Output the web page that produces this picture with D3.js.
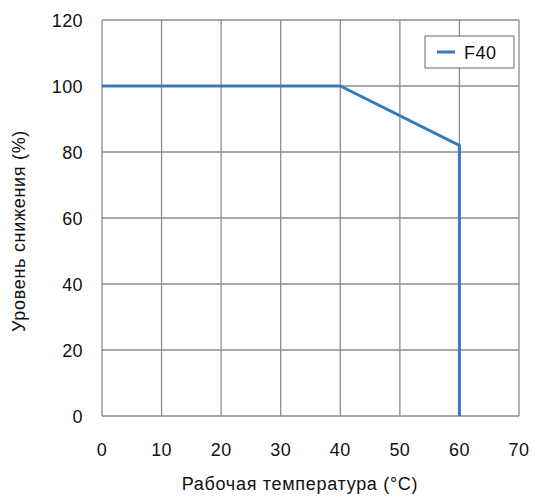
<!DOCTYPE html>
<html>
<head>
<meta charset="utf-8">
<script src="https://cdn.jsdelivr.net/npm/d3@7"></script>
<style>
  body { margin: 0; background: #fff; }
  text { font-family: 'Liberation Sans', Arial, sans-serif; }
</style>
</head>
<body>
<div id="chart"></div>
<script>
const WIDTH  = 535;
const HEIGHT = 497;
const MARGIN = { top: 20, right: 16, bottom: 81, left: 102 };
const FONT   = '18px';

const COLORS = {
  grid: '#8c8c8c',
  line: '#3b78c3',
  text: '#111'
};

// data
const temps   = [0, 40, 60, 60];
const levels  = [100, 100, 82, 0];
const xTicks  = [0, 10, 20, 30, 40, 50, 60, 70];
const yTicks  = [0, 20, 40, 60, 80, 100, 120];
const seriesName = 'F40';
const xTitle = 'Рабочая температура (°C)';
const yTitle = 'Уровень снижения (%)';

const w = WIDTH - MARGIN.left - MARGIN.right;
const h = HEIGHT - MARGIN.top - MARGIN.bottom;

var x = d3.scaleLinear().domain([0, 70]).range([0, w]);
var y = d3.scaleLinear().domain([0, 120]).range([h, 0]);

var svg = d3.select('#chart').append('svg')
  .attr('width', WIDTH)
  .attr('height', HEIGHT);

var g = svg.append('g')
  .attr('transform', `translate(${MARGIN.left},${MARGIN.top})`);

// Grid
g.selectAll('.vgrid')
    .data(xTicks)
  .enter().append('line')
    .attr('class', 'vgrid')
    .attr('x1', d => x(d)).attr('x2', d => x(d))
    .attr('y1', 0).attr('y2', h)
    .style('stroke', COLORS.grid)
    .style('stroke-width', 1.3);

g.selectAll('.hgrid')
    .data(yTicks)
  .enter().append('line')
    .attr('class', 'hgrid')
    .attr('x1', 0).attr('x2', w)
    .attr('y1', d => y(d)).attr('y2', d => y(d))
    .style('stroke', COLORS.grid)
    .style('stroke-width', 1.3);

// Tick labels
g.selectAll('.xlabel')
    .data(xTicks)
  .enter().append('text')
    .attr('x', d => x(d))
    .attr('y', h + 40)
    .attr('text-anchor', 'middle')
    .style('font-size', FONT)
    .style('letter-spacing', '0.4px')
    .style('fill', COLORS.text)
    .text(d => d);

g.selectAll('.ylabel')
    .data(yTicks)
  .enter().append('text')
    .attr('x', -19)
    .attr('y', d => y(d) + 7)
    .attr('text-anchor', 'end')
    .style('font-size', FONT)
    .style('letter-spacing', '0.4px')
    .style('fill', COLORS.text)
    .text(d => d);

// Axis titles
svg.append('text')
  .attr('x', 300)
  .attr('y', 490)
  .attr('text-anchor', 'middle')
  .style('font-size', FONT)
  .style('letter-spacing', '0.7px')
  .style('fill', COLORS.text)
  .text(xTitle);

svg.append('text')
  .attr('transform', `translate(25,231) rotate(-90)`)
  .attr('text-anchor', 'middle')
  .style('font-size', FONT)
  .style('letter-spacing', '0.7px')
  .style('fill', COLORS.text)
  .text(yTitle);

// Series line
var line = d3.line()
  .x(d => x(d[0]))
  .y(d => y(d[1]));

g.append('path')
  .datum(d3.zip(temps, levels))
  .attr('d', line)
  .style('fill', 'none')
  .style('stroke', COLORS.line)
  .style('stroke-width', 3);

// Legend
var legend = svg.append('g')
  .attr('transform', 'translate(425,36)');

legend.append('rect')
  .attr('width', 89)
  .attr('height', 32)
  .style('fill', '#fff')
  .style('stroke', '#666')
  .style('stroke-width', 1);

legend.append('line')
  .attr('x1', 12).attr('x2', 30)
  .attr('y1', 16).attr('y2', 16)
  .style('stroke', COLORS.line)
  .style('stroke-width', 3);

legend.append('text')
  .attr('x', 39)
  .attr('y', 23)
  .style('font-size', FONT)
  .style('letter-spacing', '0.5px')
  .style('fill', COLORS.text)
  .text(seriesName);
</script>
</body>
</html>
